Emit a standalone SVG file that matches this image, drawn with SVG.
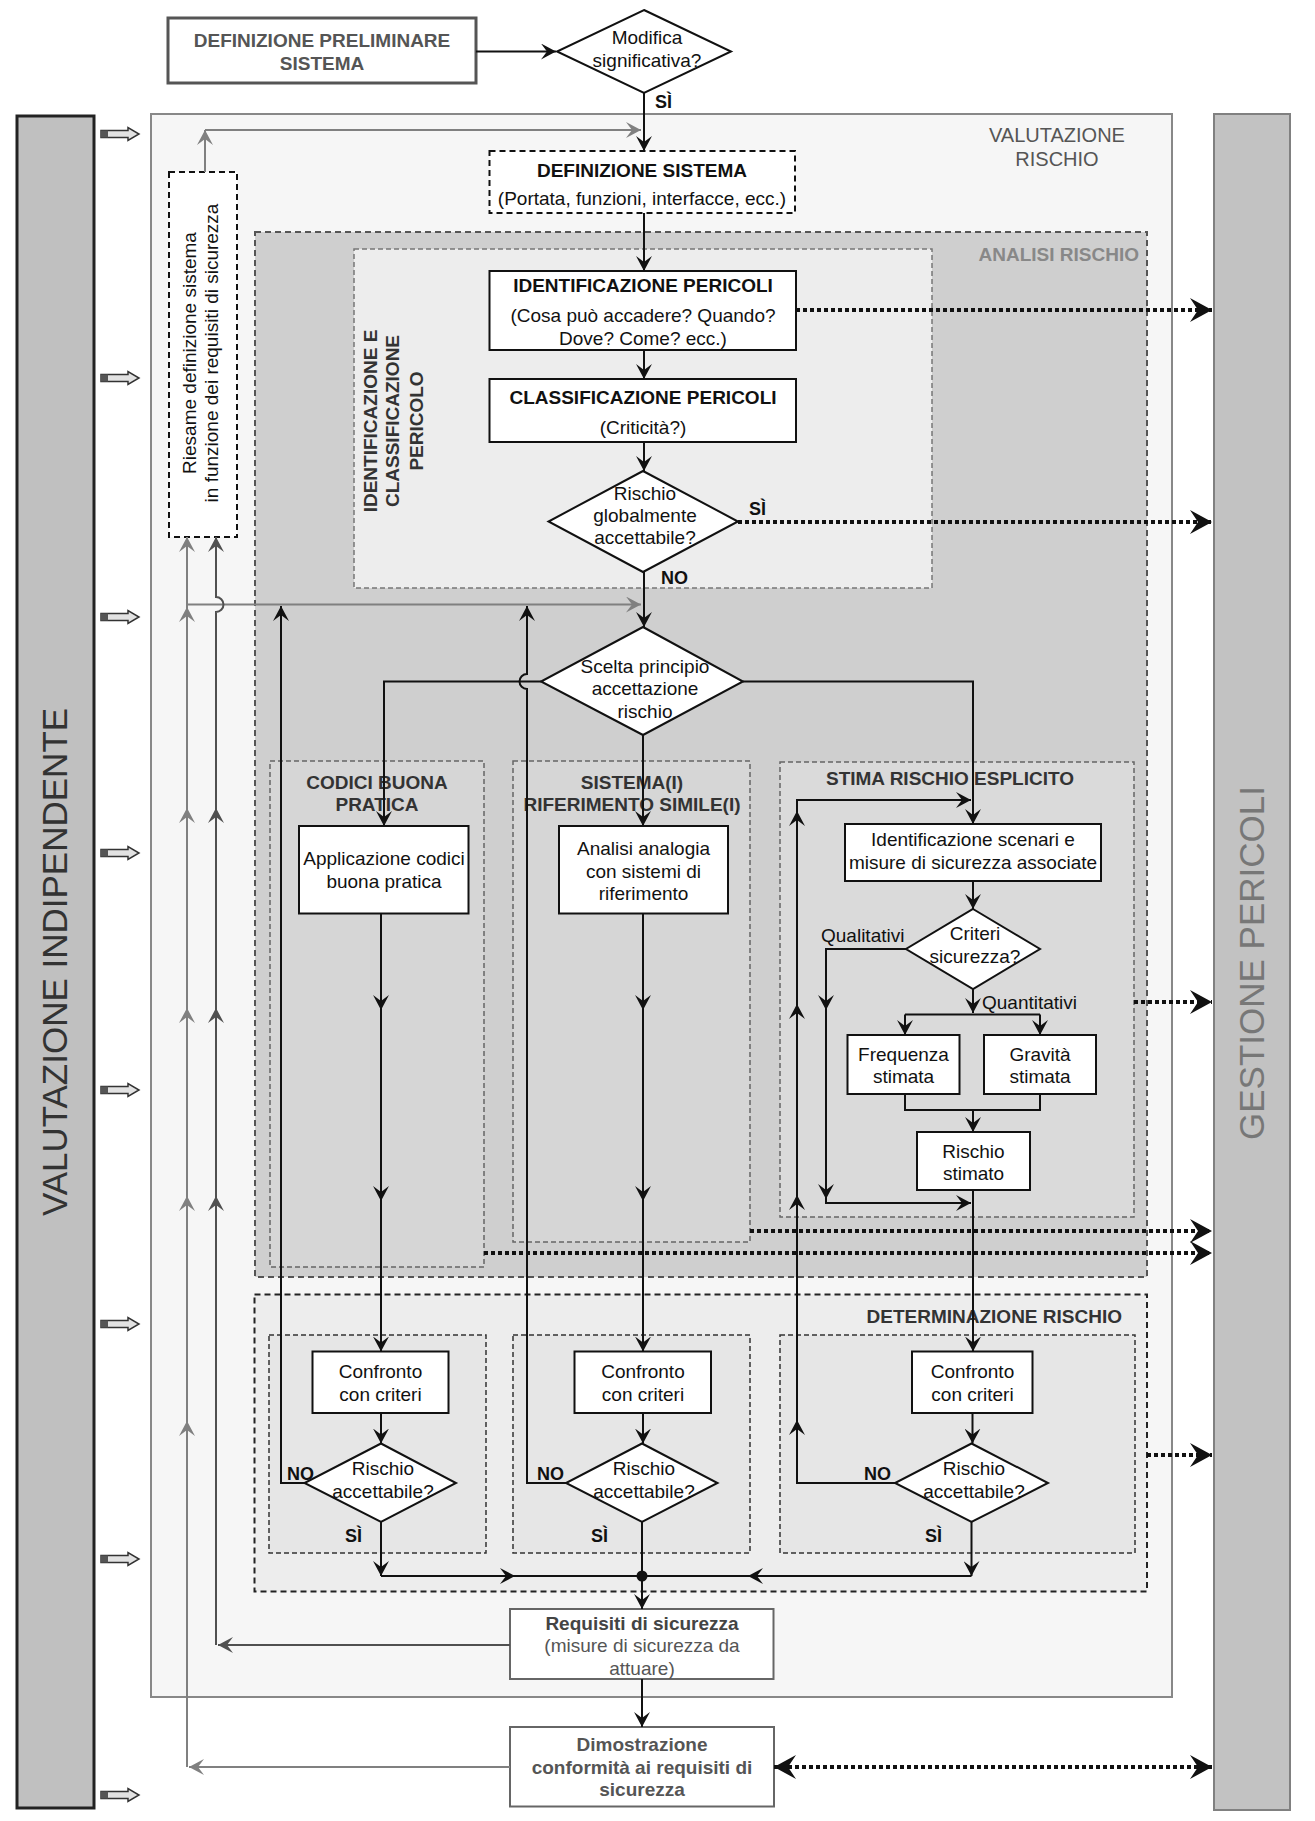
<svg xmlns="http://www.w3.org/2000/svg" width="1315" height="1821" viewBox="0 0 1315 1821">
<defs>
<style>
.t{font-family:"Liberation Sans",Arial,sans-serif;font-size:19px;fill:#111;text-anchor:middle}
.b{font-weight:bold}
.l{font-family:"Liberation Sans",Arial,sans-serif;font-size:18px;font-weight:bold;fill:#111}
.box{fill:#fff;stroke:#111;stroke-width:2}
.gbox{fill:#fff;stroke:#666;stroke-width:2}
.ln{fill:none;stroke:#111;stroke-width:2}
.gl{fill:none;stroke:#808080;stroke-width:2}
.dl{fill:none;stroke:#505050;stroke-width:2}
.dot{fill:none;stroke:#111;stroke-width:4;stroke-dasharray:4 3}
.zone{stroke:#666;stroke-width:1.5;stroke-dasharray:5 3}
.sub{fill:#e6e6e6;stroke:#333;stroke-width:1.5;stroke-dasharray:5 3}
</style>
<marker id="a" viewBox="0 0 15 16" refX="15" refY="8" markerWidth="15" markerHeight="16" markerUnits="userSpaceOnUse" orient="auto"><path d="M0,0 L15,8 L0,16 L6,8 z" fill="#111"/></marker>
<marker id="ag" viewBox="0 0 15 16" refX="15" refY="8" markerWidth="15" markerHeight="16" markerUnits="userSpaceOnUse" orient="auto"><path d="M0,0 L15,8 L0,16 L6,8 z" fill="#808080"/></marker>
<marker id="ad" viewBox="0 0 15 16" refX="15" refY="8" markerWidth="15" markerHeight="16" markerUnits="userSpaceOnUse" orient="auto"><path d="M0,0 L15,8 L0,16 L6,8 z" fill="#505050"/></marker>
<marker id="ab" viewBox="0 0 22 24" refX="22" refY="12" markerWidth="22" markerHeight="24" markerUnits="userSpaceOnUse" orient="auto-start-reverse"><path d="M0,0 L22,12 L0,24 L8,12 z" fill="#111"/></marker>
<g id="blk"><polygon points="0,-3.5 27,-3.5 27,-6.5 38,0 27,6.5 27,3.5 0,3.5" fill="#e2e2e2" stroke="#333" stroke-width="1.5"/><rect x="0" y="-3.5" width="7" height="7" fill="#555"/></g>
</defs>

<g id="valutazione-indipendente">
<rect x="17" y="116" width="77" height="1692" fill="#c0c0c0" stroke="#222" stroke-width="3"/>
<text class="t" transform="translate(67,962) rotate(-90)" style="font-size:35px;fill:#333">VALUTAZIONE INDIPENDENTE</text>
</g>
<g id="gestione-pericoli">
<rect x="1214" y="114" width="76" height="1696" fill="#c2c2c2" stroke="#808080" stroke-width="2"/>
<text class="t" transform="translate(1264,963) rotate(-90)" style="font-size:35px;fill:#777">GESTIONE PERICOLI</text>
</g>
<g id="indipendente-arrows">
<use href="#blk" transform="translate(101,134)"/>
<use href="#blk" transform="translate(101,378)"/>
<use href="#blk" transform="translate(101,617)"/>
<use href="#blk" transform="translate(101,853)"/>
<use href="#blk" transform="translate(101,1090)"/>
<use href="#blk" transform="translate(101,1324)"/>
<use href="#blk" transform="translate(101,1559)"/>
<use href="#blk" transform="translate(101,1795)"/>
</g>

<g id="valutazione-rischio">
<rect x="151" y="114" width="1021" height="1583" fill="#f6f6f6" stroke="#888" stroke-width="2"/>
<text class="t" x="1057" y="142" style="font-size:20px;fill:#555">VALUTAZIONE</text>
<text class="t" x="1057" y="166" style="font-size:20px;fill:#555">RISCHIO</text>
</g>
<g id="analisi-rischio">
<rect x="255" y="232" width="892" height="1045" fill="#cfcfcf" stroke="#555" stroke-width="2" stroke-dasharray="6 4"/>
<text class="t b" x="1139" y="261" style="text-anchor:end;fill:#888">ANALISI RISCHIO</text>
</g>
<g id="identificazione-classificazione">
<rect x="354" y="249" width="578" height="339" fill="#ededed" stroke="#777" stroke-width="1.5" stroke-dasharray="5 3"/>
<text class="t b" transform="translate(377,421) rotate(-90)" style="fill:#333">IDENTIFICAZIONE E</text>
<text class="t b" transform="translate(399,421) rotate(-90)" style="fill:#333">CLASSIFICAZIONE</text>
<text class="t b" transform="translate(423,421) rotate(-90)" style="fill:#333">PERICOLO</text>
</g>
<g id="codici-buona-pratica">
<rect class="zone" x="270" y="761" width="214" height="506" fill="#d6d6d6"/>
<text class="t b" x="377" y="789" style="fill:#333">CODICI BUONA</text>
<text class="t b" x="377" y="811" style="fill:#333">PRATICA</text>
</g>
<g id="sistema-riferimento">
<rect class="zone" x="513" y="761" width="237" height="481" fill="#d6d6d6"/>
<text class="t b" x="632" y="789" style="fill:#333">SISTEMA(I)</text>
<text class="t b" x="632" y="811" style="fill:#333">RIFERIMENTO SIMILE(I)</text>
</g>
<g id="stima-rischio">
<rect class="zone" x="780" y="762" width="354" height="455" fill="#dadada"/>
<text class="t b" x="950" y="785" style="fill:#333">STIMA RISCHIO ESPLICITO</text>
</g>
<g id="determinazione-rischio">
<rect x="254.5" y="1294.5" width="892.5" height="297" fill="#ededed" stroke="#222" stroke-width="2" stroke-dasharray="6 4"/>
<text class="t b" x="1122" y="1323" style="text-anchor:end;fill:#333">DETERMINAZIONE RISCHIO</text>
<rect class="sub" x="269" y="1335" width="217" height="218"/>
<rect class="sub" x="513" y="1335" width="237" height="218"/>
<rect class="sub" x="780" y="1335" width="355" height="218"/>
</g>

<g id="riesame">
<rect x="169" y="172" width="68" height="365" fill="#fff" stroke="#111" stroke-width="2" stroke-dasharray="6 4"/>
<text class="t" transform="translate(196,353) rotate(-90)">Riesame definizione sistema</text>
<text class="t" transform="translate(218,353) rotate(-90)">in funzione dei requisiti di sicurezza</text>
</g>
<g id="definizione-preliminare">
<rect x="168" y="18" width="308" height="65" fill="#fff" stroke="#555" stroke-width="3"/>
<text class="t b" x="322" y="46.5" style="fill:#555">DEFINIZIONE PRELIMINARE</text>
<text class="t b" x="322" y="69.5" style="fill:#555">SISTEMA</text>
</g>
<g id="modifica-significativa">
<polygon class="box" points="644,10 731,51.5 644,93 557,51.5"/>
<text class="t" x="647" y="43.5">Modifica</text>
<text class="t" x="647" y="66.5">significativa?</text>
</g>
<g id="definizione-sistema">
<rect x="489.5" y="151" width="305.5" height="62" fill="#fff" stroke="#111" stroke-width="2" stroke-dasharray="6 4"/>
<text class="t b" x="642" y="177">DEFINIZIONE SISTEMA</text>
<text class="t" x="642" y="205">(Portata, funzioni, interfacce, ecc.)</text>
</g>
<g id="identificazione-pericoli">
<rect class="box" x="489.5" y="271" width="306.5" height="79"/>
<text class="t b" x="643" y="292">IDENTIFICAZIONE PERICOLI</text>
<text class="t" x="643" y="321.5">(Cosa può accadere? Quando?</text>
<text class="t" x="643" y="344.5">Dove? Come? ecc.)</text>
</g>
<g id="classificazione-pericoli">
<rect class="box" x="489.5" y="379" width="306.5" height="63"/>
<text class="t b" x="643" y="403.5">CLASSIFICAZIONE PERICOLI</text>
<text class="t" x="643" y="433.5">(Criticità?)</text>
</g>
<g id="rischio-globale">
<polygon class="box" points="643,471 738,521.5 643,572 548.5,521.5"/>
<text class="t" x="645" y="499.5">Rischio</text>
<text class="t" x="645" y="521.5">globalmente</text>
<text class="t" x="645" y="543.5">accettabile?</text>
</g>
<g id="scelta-principio">
<polygon class="box" points="643,627 743,681.5 643,735 541,681.5"/>
<text class="t" x="645" y="673">Scelta principio</text>
<text class="t" x="645" y="695">accettazione</text>
<text class="t" x="645" y="718">rischio</text>
</g>
<g id="applicazione-codici">
<rect class="box" x="299" y="826" width="169.5" height="87.5"/>
<text class="t" x="384" y="865">Applicazione codici</text>
<text class="t" x="384" y="887.5">buona pratica</text>
</g>
<g id="analisi-analogia">
<rect class="box" x="559" y="826" width="169" height="87.5"/>
<text class="t" x="643.5" y="854.5">Analisi analogia</text>
<text class="t" x="643.5" y="877.5">con sistemi di</text>
<text class="t" x="643.5" y="899.5">riferimento</text>
</g>
<g id="identificazione-scenari">
<rect class="box" x="845" y="824" width="256" height="57"/>
<text class="t" x="973" y="845.5">Identificazione scenari e</text>
<text class="t" x="973" y="868.5">misure di sicurezza associate</text>
</g>
<g id="criteri-sicurezza">
<polygon class="box" points="973,909 1040,949 973,989 906,949"/>
<text class="t" x="975" y="939.5">Criteri</text>
<text class="t" x="975" y="962.5">sicurezza?</text>
</g>
<g id="frequenza-stimata">
<rect class="box" x="847.5" y="1035" width="112" height="59"/>
<text class="t" x="903.5" y="1060.5">Frequenza</text>
<text class="t" x="903.5" y="1083">stimata</text>
</g>
<g id="gravita-stimata">
<rect class="box" x="984" y="1035" width="112" height="59"/>
<text class="t" x="1040" y="1060.5">Gravità</text>
<text class="t" x="1040" y="1083">stimata</text>
</g>
<g id="rischio-stimato">
<rect class="box" x="917" y="1132" width="113" height="58"/>
<text class="t" x="973.5" y="1157.5">Rischio</text>
<text class="t" x="973.5" y="1179.5">stimato</text>
</g>
<g id="confronto-1">
<rect class="box" x="312.5" y="1351.5" width="136" height="61.5"/>
<text class="t" x="380.5" y="1377.5">Confronto</text>
<text class="t" x="380.5" y="1400.5">con criteri</text>
</g>
<g id="confronto-2">
<rect class="box" x="574.5" y="1351.5" width="136.5" height="61.5"/>
<text class="t" x="643" y="1377.5">Confronto</text>
<text class="t" x="643" y="1400.5">con criteri</text>
</g>
<g id="confronto-3">
<rect class="box" x="912" y="1351.5" width="120.5" height="61.5"/>
<text class="t" x="972.5" y="1377.5">Confronto</text>
<text class="t" x="972.5" y="1400.5">con criteri</text>
</g>
<g id="rischio-accettabile-1">
<polygon class="box" points="381,1443.5 456,1483 381,1522 304.5,1483"/>
<text class="t" x="383" y="1475">Rischio</text>
<text class="t" x="383" y="1497.5">accettabile?</text>
</g>
<g id="rischio-accettabile-2">
<polygon class="box" points="642,1443.5 717.5,1483 642,1522 566,1483"/>
<text class="t" x="644" y="1475">Rischio</text>
<text class="t" x="644" y="1497.5">accettabile?</text>
</g>
<g id="rischio-accettabile-3">
<polygon class="box" points="971.5,1443.5 1048,1483 971.5,1522 895,1483"/>
<text class="t" x="974" y="1475">Rischio</text>
<text class="t" x="974" y="1497.5">accettabile?</text>
</g>
<g id="requisiti-sicurezza">
<rect class="gbox" x="510" y="1609" width="263.5" height="70"/>
<text class="t b" x="642" y="1630" style="fill:#444">Requisiti di sicurezza</text>
<text class="t" x="642" y="1652" style="fill:#555">(misure di sicurezza da</text>
<text class="t" x="642" y="1674.5" style="fill:#555">attuare)</text>
</g>
<g id="dimostrazione-conformita">
<rect class="gbox" x="510" y="1727" width="264" height="79.5"/>
<text class="t b" x="642" y="1750.5" style="fill:#555">Dimostrazione</text>
<text class="t b" x="642" y="1773.5" style="fill:#555">conformità ai requisiti di</text>
<text class="t b" x="642" y="1795.5" style="fill:#555">sicurezza</text>
</g>

<g id="connectors">
<path class="ln" d="M476,51.5 H556" marker-end="url(#a)"/>
<path class="ln" d="M644,93 V151" marker-end="url(#a)"/>
<path class="gl" d="M205,172 V130" marker-end="url(#ag)"/>
<path class="gl" d="M205,130 H641" marker-end="url(#ag)"/>
<path class="ln" d="M644,213 V271" marker-end="url(#a)"/>
<path class="ln" d="M644,350 V379" marker-end="url(#a)"/>
<path class="ln" d="M644,442 V471" marker-end="url(#a)"/>
<path class="ln" d="M644,572 V627" marker-end="url(#a)"/>
<path class="dot" d="M796,310 H1212" marker-end="url(#ab)"/>
<path class="dot" d="M738,522 H1212" marker-end="url(#ab)"/>
<path class="dot" d="M1134,1002 H1212" marker-end="url(#ab)"/>
<path class="dot" d="M750,1231 H1212" marker-end="url(#ab)"/>
<path class="dot" d="M484,1253 H1212" marker-end="url(#ab)"/>
<path class="dot" d="M1147,1455 H1212" marker-end="url(#ab)"/>
<path class="dot" d="M774,1767 H1212" marker-start="url(#ab)" marker-end="url(#ab)"/>
<path class="gl" d="M510,1767 H189" marker-end="url(#ag)"/>
<path class="gl" d="M187,1767 V537" marker-end="url(#ag)"/>
<path class="gl" d="M187,1425 V1421" marker-end="url(#ag)"/>
<path class="gl" d="M187,1200 V1196" marker-end="url(#ag)"/>
<path class="gl" d="M187,1012 V1008" marker-end="url(#ag)"/>
<path class="gl" d="M187,812 V808" marker-end="url(#ag)"/>
<path class="gl" d="M187,612 V607" marker-end="url(#ag)"/>
<path class="gl" d="M187,604.5 H641" marker-end="url(#ag)"/>
<path class="dl" d="M510,1645 H218" marker-end="url(#ad)"/>
<path class="dl" d="M216,1645 V612 A7.5,7.5 0 0 0 216,597 V537" marker-end="url(#ad)"/>
<path class="dl" d="M216,1200 V1196" marker-end="url(#ad)"/>
<path class="dl" d="M216,1012 V1008" marker-end="url(#ad)"/>
<path class="dl" d="M216,812 V808" marker-end="url(#ad)"/>
<path class="ln" d="M304.5,1483 H281 V606" marker-end="url(#a)"/>
<path class="ln" d="M566,1483 H527 V689 A7.5,7.5 0 0 1 527,674 V606" marker-end="url(#a)"/>
<path class="ln" d="M541,681.5 H384 V826" marker-end="url(#a)"/>
<path class="ln" d="M643,735 V826" marker-end="url(#a)"/>
<path class="ln" d="M743,681.5 H973 V824" marker-end="url(#a)"/>
<path class="ln" d="M381,913.5 V1351.5" marker-end="url(#a)"/>
<path class="ln" d="M381,1005 V1010" marker-end="url(#a)"/>
<path class="ln" d="M381,1196 V1201" marker-end="url(#a)"/>
<path class="ln" d="M643,913.5 V1351.5" marker-end="url(#a)"/>
<path class="ln" d="M643,1005 V1010" marker-end="url(#a)"/>
<path class="ln" d="M643,1196 V1201" marker-end="url(#a)"/>
<path class="ln" d="M973,881 V909" marker-end="url(#a)"/>
<path class="ln" d="M906,949 H826 V1203 H971" marker-end="url(#a)"/>
<path class="ln" d="M826,1005 V1010" marker-end="url(#a)"/>
<path class="ln" d="M826,1194 V1199" marker-end="url(#a)"/>
<path class="ln" d="M973,989 V1013" marker-end="url(#a)"/>
<path class="ln" d="M905,1014.5 H1040"/>
<path class="ln" d="M905,1014.5 V1035" marker-end="url(#a)"/>
<path class="ln" d="M1040,1014.5 V1035" marker-end="url(#a)"/>
<path class="ln" d="M905,1094 V1110 H1040 V1094"/>
<path class="ln" d="M973,1110 V1132" marker-end="url(#a)"/>
<path class="ln" d="M973,1190 V1351.5" marker-end="url(#a)"/>
<path class="ln" d="M895,1483 H797 V800 H971" marker-end="url(#a)"/>
<path class="ln" d="M797,1425 V1420" marker-end="url(#a)"/>
<path class="ln" d="M797,1200 V1195" marker-end="url(#a)"/>
<path class="ln" d="M797,1009 V1004" marker-end="url(#a)"/>
<path class="ln" d="M797,816 V811" marker-end="url(#a)"/>
<path class="ln" d="M381,1413 V1443.5" marker-end="url(#a)"/>
<path class="ln" d="M643,1413 V1443.5" marker-end="url(#a)"/>
<path class="ln" d="M972.5,1413 V1443.5" marker-end="url(#a)"/>
<path class="ln" d="M381,1522 V1576" marker-end="url(#a)"/>
<path class="ln" d="M381,1576 H642"/>
<path class="ln" d="M510,1576 H515" marker-end="url(#a)"/>
<path class="ln" d="M642,1522 V1576"/>
<path class="ln" d="M642,1576 V1609" marker-end="url(#a)"/>
<path class="ln" d="M971.5,1522 V1576" marker-end="url(#a)"/>
<path class="ln" d="M971.5,1576 H642"/>
<path class="ln" d="M753,1576 H748" marker-end="url(#a)"/>
<circle cx="642" cy="1576" r="5.5" fill="#111"/>
<path class="ln" d="M642,1679 V1727" marker-end="url(#a)"/>
<text class="l" x="655" y="108">SÌ</text>
<text class="l" x="749" y="515">SÌ</text>
<text class="l" x="661" y="584">NO</text>
<text class="t" x="821" y="941.5" style="text-anchor:start">Qualitativi</text>
<text class="t" x="982" y="1008.5" style="text-anchor:start">Quantitativi</text>
<text class="l" x="287" y="1480">NO</text>
<text class="l" x="537" y="1480">NO</text>
<text class="l" x="864" y="1480">NO</text>
<text class="l" x="345" y="1542">SÌ</text>
<text class="l" x="591" y="1542">SÌ</text>
<text class="l" x="925" y="1542">SÌ</text>
</g>
</svg>
